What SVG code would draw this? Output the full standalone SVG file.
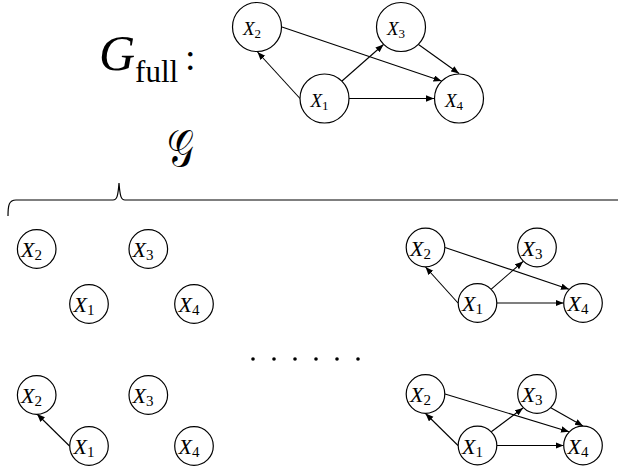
<svg xmlns="http://www.w3.org/2000/svg" width="618" height="472" viewBox="0 0 618 472">
<defs>
<style>
.n circle{fill:#fff;stroke:#000;stroke-width:1.2}
.n text{font-family:"Liberation Serif",serif;font-style:italic;fill:#000;text-anchor:middle}
.big text{font-size:19px}
.sm text{font-size:22px}
.sub{font-style:normal}
.e line{stroke:#000;stroke-width:1.1;marker-end:url(#ah)}
.t{font-family:"Liberation Serif",serif;fill:#000}
</style>
<marker id="ah" markerUnits="userSpaceOnUse" markerWidth="9" markerHeight="7" refX="8" refY="3.2" orient="auto">
<path d="M0,0 L8,3.2 L0,6.4 z" fill="#000"/>
</marker>
</defs>
<rect width="618" height="472" fill="#fff"/>

<text class="t" x="99" y="70" font-size="50" font-style="italic">G<tspan font-style="normal" font-size="31" dy="12">full</tspan></text>
<text class="t" x="185" y="70" font-size="38">:</text>

<text class="t" transform="translate(167,166) scale(0.72,1)" x="0" y="0" font-size="52" font-family="DejaVu Sans, serif">𝒢</text>

<path d="M8,216 C8,205 9,200 16,200 L113,200 C117,200 118,196 119,183 C120,196 121,200 125,200 L618,200" fill="none" stroke="#000" stroke-width="1.2"/>

<g id="dots" fill="#000">
<circle cx="253" cy="359" r="1.8"/><circle cx="274" cy="359" r="1.8"/><circle cx="295" cy="359" r="1.8"/><circle cx="316" cy="359" r="1.8"/><circle cx="337" cy="359" r="1.8"/><circle cx="358" cy="359" r="1.8"/>
</g>

<g id="connectors" class="e">
<line x1="300" y1="98.5" x2="257.5" y2="52"/>
<line x1="342" y1="81" x2="383.5" y2="44.5"/>
<line x1="282" y1="27" x2="441.5" y2="81"/>
<line x1="418.5" y1="44.5" x2="459" y2="73.5"/>
<line x1="349" y1="98.5" x2="434" y2="98.5"/>

<line x1="69.5" y1="446" x2="37" y2="414"/>

<line x1="458" y1="303" x2="425.5" y2="267"/>
<line x1="491.3" y1="289.2" x2="523" y2="261.5"/>
<line x1="445" y1="247.5" x2="569" y2="289.2"/>
<line x1="497" y1="303" x2="563.5" y2="303"/>

<line x1="458" y1="445.5" x2="425.5" y2="413.5"/>
<line x1="491.3" y1="431.7" x2="523" y2="408"/>
<line x1="445" y1="394" x2="569" y2="431.7"/>
<line x1="550.8" y1="407.8" x2="583" y2="426"/>
<line x1="497" y1="445.5" x2="563.5" y2="445.5"/>
</g>

<g class="n big">
<g id="full-x2"><circle cx="257" cy="27" r="24.5"/><text x="252" y="35">X<tspan class="sub" font-size="13" dy="3">2</tspan></text></g>
<g id="full-x3"><circle cx="401" cy="27" r="24.5"/><text x="396" y="35">X<tspan class="sub" font-size="13" dy="3">3</tspan></text></g>
<g id="full-x1"><circle cx="324.5" cy="98.5" r="24.5"/><text x="319.5" y="106.5">X<tspan class="sub" font-size="13" dy="3">1</tspan></text></g>
<g id="full-x4"><circle cx="459" cy="98.5" r="24.5"/><text x="454" y="106.5">X<tspan class="sub" font-size="13" dy="3">4</tspan></text></g>
</g>

<g class="n sm">
<g id="a-x2"><circle cx="36.7" cy="249" r="19.3"/><text x="31.5" y="257">X<tspan class="sub" font-size="15" dy="3">2</tspan></text></g>
<g id="a-x3"><circle cx="148.3" cy="249" r="19.3"/><text x="143" y="257">X<tspan class="sub" font-size="15" dy="3">3</tspan></text></g>
<g id="a-x1"><circle cx="89" cy="304" r="19.3"/><text x="84" y="312">X<tspan class="sub" font-size="15" dy="3">1</tspan></text></g>
<g id="a-x4"><circle cx="194" cy="304" r="19.3"/><text x="189" y="312">X<tspan class="sub" font-size="15" dy="3">4</tspan></text></g>

<g id="b-x2"><circle cx="36.7" cy="395" r="19.3"/><text x="31.5" y="403">X<tspan class="sub" font-size="15" dy="3">2</tspan></text></g>
<g id="b-x3"><circle cx="148.3" cy="395" r="19.3"/><text x="143" y="403">X<tspan class="sub" font-size="15" dy="3">3</tspan></text></g>
<g id="b-x1"><circle cx="89" cy="446" r="19.3"/><text x="84" y="454">X<tspan class="sub" font-size="15" dy="3">1</tspan></text></g>
<g id="b-x4"><circle cx="194" cy="446" r="19.3"/><text x="189" y="454">X<tspan class="sub" font-size="15" dy="3">4</tspan></text></g>

<g id="c-x2"><circle cx="425.5" cy="247.5" r="19.3"/><text x="420.5" y="255.5">X<tspan class="sub" font-size="15" dy="3">2</tspan></text></g>
<g id="c-x3"><circle cx="537" cy="247.5" r="19.3"/><text x="532" y="255.5">X<tspan class="sub" font-size="15" dy="3">3</tspan></text></g>
<g id="c-x1"><circle cx="477.5" cy="303" r="19.3"/><text x="472.5" y="311">X<tspan class="sub" font-size="15" dy="3">1</tspan></text></g>
<g id="c-x4"><circle cx="583" cy="303" r="19.3"/><text x="578" y="311">X<tspan class="sub" font-size="15" dy="3">4</tspan></text></g>

<g id="d-x2"><circle cx="425.5" cy="394" r="19.3"/><text x="420.5" y="402">X<tspan class="sub" font-size="15" dy="3">2</tspan></text></g>
<g id="d-x3"><circle cx="537" cy="394" r="19.3"/><text x="532" y="402">X<tspan class="sub" font-size="15" dy="3">3</tspan></text></g>
<g id="d-x1"><circle cx="477.5" cy="445.5" r="19.3"/><text x="472.5" y="453.5">X<tspan class="sub" font-size="15" dy="3">1</tspan></text></g>
<g id="d-x4"><circle cx="583" cy="445.5" r="19.3"/><text x="578" y="453.5">X<tspan class="sub" font-size="15" dy="3">4</tspan></text></g>
</g>
</svg>
